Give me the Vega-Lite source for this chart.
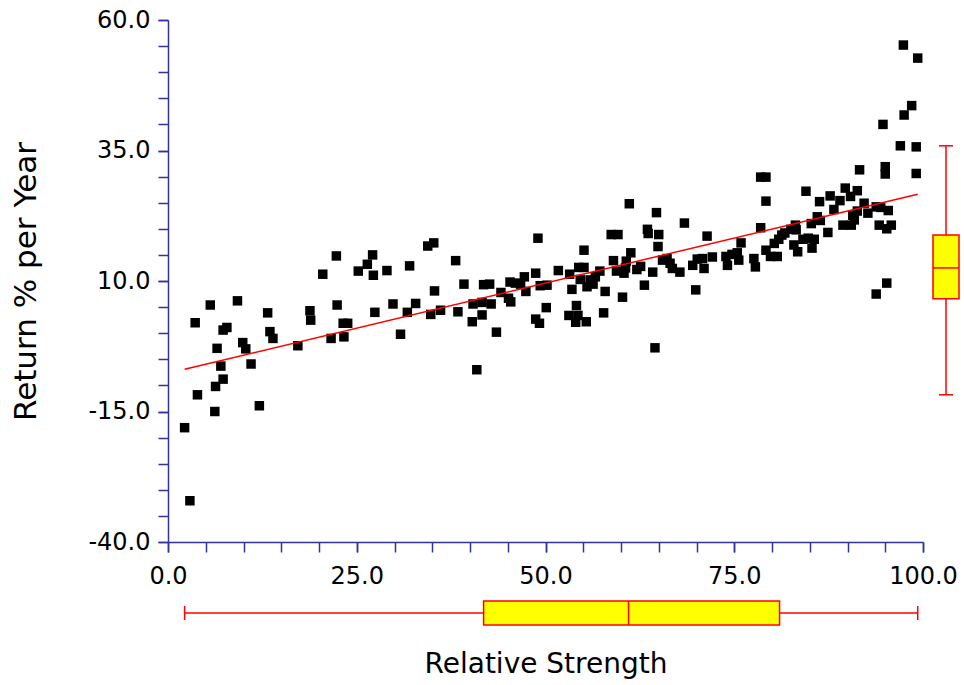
{
  "$schema": "https://vega.github.io/schema/vega-lite/v6.json",
  "background": "white",
  "padding": {"left": 10, "top": 8, "right": 0, "bottom": 4},
  "config": {
    "view": {"stroke": null},
    "font": "DejaVu Sans",
    "axis": {
      "domainColor": "#333399",
      "tickColor": "#333399",
      "domainWidth": 1.5,
      "tickWidth": 1.5,
      "tickSize": 10,
      "grid": false,
      "labelColor": "black",
      "titleColor": "black",
      "labelFont": "DejaVu Sans",
      "titleFont": "DejaVu Sans",
      "titleFontWeight": "normal",
      "labelFontSize": 24,
      "labelFlush": false
    }
  },
  "datasets": {
    "points": [
      {"strength": 2.2, "ret": -18.1}, {"strength": 2.9, "ret": -32.1}, {"strength": 3.6, "ret": 2.0}, {"strength": 3.9, "ret": -11.8},
      {"strength": 5.6, "ret": 5.4}, {"strength": 6.2, "ret": -15.0}, {"strength": 6.3, "ret": -10.2}, {"strength": 6.5, "ret": -2.9},
      {"strength": 7.0, "ret": -6.3}, {"strength": 7.3, "ret": 0.6}, {"strength": 7.8, "ret": 1.1}, {"strength": 7.3, "ret": -8.8},
      {"strength": 9.2, "ret": 6.2}, {"strength": 9.9, "ret": -1.8}, {"strength": 10.3, "ret": -3.0}, {"strength": 11.0, "ret": -5.9},
      {"strength": 12.1, "ret": -13.9}, {"strength": 13.2, "ret": 3.9}, {"strength": 13.5, "ret": 0.3}, {"strength": 13.9, "ret": -1.0},
      {"strength": 17.2, "ret": -2.4}, {"strength": 18.8, "ret": 4.3}, {"strength": 18.9, "ret": 2.5}, {"strength": 20.5, "ret": 11.3},
      {"strength": 21.6, "ret": -1.0}, {"strength": 22.3, "ret": 14.8}, {"strength": 22.4, "ret": 5.4}, {"strength": 23.2, "ret": 1.9},
      {"strength": 23.8, "ret": 1.9}, {"strength": 23.3, "ret": -0.7}, {"strength": 25.2, "ret": 11.9}, {"strength": 26.4, "ret": 13.2},
      {"strength": 27.1, "ret": 15.0}, {"strength": 27.2, "ret": 11.1}, {"strength": 27.4, "ret": 4.0}, {"strength": 29.0, "ret": 12.0},
      {"strength": 29.8, "ret": 5.6}, {"strength": 30.8, "ret": -0.2}, {"strength": 31.7, "ret": 4.0}, {"strength": 32.0, "ret": 12.9},
      {"strength": 32.8, "ret": 5.7}, {"strength": 34.4, "ret": 16.7}, {"strength": 35.2, "ret": 17.3}, {"strength": 34.8, "ret": 3.6},
      {"strength": 35.3, "ret": 8.1}, {"strength": 36.1, "ret": 4.4}, {"strength": 38.1, "ret": 13.9}, {"strength": 38.4, "ret": 4.1},
      {"strength": 39.2, "ret": 9.4}, {"strength": 40.4, "ret": 5.6}, {"strength": 40.3, "ret": 2.2}, {"strength": 40.9, "ret": -7.0},
      {"strength": 41.6, "ret": 3.5}, {"strength": 41.6, "ret": 5.9}, {"strength": 41.8, "ret": 9.3}, {"strength": 42.6, "ret": 9.4},
      {"strength": 42.8, "ret": 5.6}, {"strength": 43.5, "ret": 0.2}, {"strength": 44.1, "ret": 7.8}, {"strength": 45.1, "ret": 6.7},
      {"strength": 45.4, "ret": 6.0}, {"strength": 45.3, "ret": 9.8}, {"strength": 46.0, "ret": 9.6}, {"strength": 46.7, "ret": 9.4},
      {"strength": 47.2, "ret": 10.8}, {"strength": 47.4, "ret": 8.0}, {"strength": 48.7, "ret": 11.5}, {"strength": 49.0, "ret": 18.2},
      {"strength": 48.7, "ret": 2.7}, {"strength": 49.2, "ret": 1.9}, {"strength": 49.3, "ret": 9.1}, {"strength": 50.2, "ret": 9.2},
      {"strength": 50.1, "ret": 4.9}, {"strength": 51.7, "ret": 12.0}, {"strength": 53.2, "ret": 11.3}, {"strength": 54.4, "ret": 12.6},
      {"strength": 55.1, "ret": 12.6}, {"strength": 55.1, "ret": 15.9}, {"strength": 54.6, "ret": 10.3}, {"strength": 55.9, "ret": 10.2},
      {"strength": 56.6, "ret": 10.8}, {"strength": 57.2, "ret": 11.9}, {"strength": 55.5, "ret": 8.9}, {"strength": 56.3, "ret": 9.4},
      {"strength": 53.5, "ret": 8.4}, {"strength": 57.9, "ret": 8.0}, {"strength": 59.0, "ret": 13.9}, {"strength": 59.4, "ret": 11.9},
      {"strength": 60.4, "ret": 11.5}, {"strength": 61.3, "ret": 15.4}, {"strength": 60.7, "ret": 13.8}, {"strength": 60.6, "ret": 12.5},
      {"strength": 62.1, "ret": 12.2}, {"strength": 60.2, "ret": 6.9}, {"strength": 54.1, "ret": 5.3}, {"strength": 53.1, "ret": 3.4},
      {"strength": 54.3, "ret": 3.4}, {"strength": 54.0, "ret": 2.1}, {"strength": 55.4, "ret": 2.2}, {"strength": 57.7, "ret": 3.9},
      {"strength": 58.7, "ret": 18.9}, {"strength": 59.6, "ret": 18.9}, {"strength": 61.1, "ret": 24.8}, {"strength": 64.5, "ret": -2.8},
      {"strength": 62.6, "ret": 12.8}, {"strength": 63.1, "ret": 9.2}, {"strength": 63.5, "ret": 19.9}, {"strength": 63.6, "ret": 19.1},
      {"strength": 65.0, "ret": 18.9}, {"strength": 64.7, "ret": 23.1}, {"strength": 64.9, "ret": 16.6}, {"strength": 64.2, "ret": 11.7},
      {"strength": 65.5, "ret": 14.0}, {"strength": 66.1, "ret": 14.3}, {"strength": 66.5, "ret": 13.4}, {"strength": 66.8, "ret": 12.4},
      {"strength": 67.8, "ret": 11.7}, {"strength": 68.4, "ret": 21.1}, {"strength": 69.5, "ret": 13.0}, {"strength": 70.1, "ret": 14.2},
      {"strength": 70.8, "ret": 14.3}, {"strength": 71.0, "ret": 12.4}, {"strength": 71.4, "ret": 18.6}, {"strength": 72.1, "ret": 14.6},
      {"strength": 69.9, "ret": 8.3}, {"strength": 73.9, "ret": 14.7}, {"strength": 74.1, "ret": 13.0}, {"strength": 74.7, "ret": 15.1},
      {"strength": 75.4, "ret": 15.4}, {"strength": 75.6, "ret": 14.0}, {"strength": 75.9, "ret": 17.3}, {"strength": 77.6, "ret": 14.3},
      {"strength": 77.8, "ret": 12.7}, {"strength": 78.5, "ret": 20.2}, {"strength": 78.5, "ret": 29.9}, {"strength": 79.2, "ret": 29.9},
      {"strength": 79.2, "ret": 25.3}, {"strength": 79.2, "ret": 15.9}, {"strength": 79.8, "ret": 14.7}, {"strength": 80.7, "ret": 14.7},
      {"strength": 80.3, "ret": 17.2}, {"strength": 80.9, "ret": 18.0}, {"strength": 81.3, "ret": 18.8}, {"strength": 81.7, "ret": 19.2},
      {"strength": 82.5, "ret": 19.9}, {"strength": 83.1, "ret": 20.7}, {"strength": 83.2, "ret": 19.8}, {"strength": 82.9, "ret": 16.9},
      {"strength": 83.4, "ret": 15.6}, {"strength": 84.1, "ret": 18.0}, {"strength": 84.8, "ret": 18.2}, {"strength": 85.6, "ret": 18.0},
      {"strength": 85.3, "ret": 16.3}, {"strength": 84.5, "ret": 27.2}, {"strength": 86.3, "ret": 25.2}, {"strength": 85.2, "ret": 21.0},
      {"strength": 86.0, "ret": 22.3}, {"strength": 86.4, "ret": 21.6}, {"strength": 87.4, "ret": 19.3}, {"strength": 87.7, "ret": 26.3},
      {"strength": 88.2, "ret": 23.7}, {"strength": 89.0, "ret": 25.4}, {"strength": 89.7, "ret": 27.8}, {"strength": 90.4, "ret": 26.2},
      {"strength": 91.3, "ret": 27.3}, {"strength": 91.6, "ret": 31.3}, {"strength": 90.7, "ret": 22.6}, {"strength": 90.9, "ret": 21.7},
      {"strength": 89.4, "ret": 20.7}, {"strength": 90.5, "ret": 20.7}, {"strength": 91.3, "ret": 23.4}, {"strength": 92.2, "ret": 24.9},
      {"strength": 92.7, "ret": 23.0}, {"strength": 93.8, "ret": 24.2}, {"strength": 94.4, "ret": 24.1}, {"strength": 95.4, "ret": 23.5},
      {"strength": 94.2, "ret": 20.7}, {"strength": 95.2, "ret": 20.0}, {"strength": 95.8, "ret": 20.7}, {"strength": 95.2, "ret": 9.6},
      {"strength": 93.8, "ret": 7.5}, {"strength": 95.0, "ret": 31.9}, {"strength": 95.0, "ret": 30.5}, {"strength": 99.1, "ret": 30.6},
      {"strength": 97.4, "ret": 55.2}, {"strength": 99.3, "ret": 52.7}, {"strength": 98.5, "ret": 43.6}, {"strength": 97.5, "ret": 41.8},
      {"strength": 94.7, "ret": 40.0}, {"strength": 97.0, "ret": 35.9}, {"strength": 99.1, "ret": 35.7}
    ],
    "fit": [
      {"strength": 2.2, "ret": -6.9},
      {"strength": 99.3, "ret": 26.6}
    ],
    "xbox": [
      {"lower": 2.2, "q1": 41.8, "median": 61.0, "q3": 81.0, "upper": 99.3}
    ],
    "ybox": [
      {"lower": -11.8, "q1": 6.6, "median": 12.5, "q3": 18.8, "upper": 35.9}
    ]
  },
  "spacing": 10,
  "vconcat": [
    {
      "bounds": "flush",
      "spacing": 8,
      "hconcat": [
        {
          "width": 755,
          "height": 522,
          "resolve": {"axis": {"x": "independent", "y": "independent"}},
          "layer": [
            {
              "data": {"name": "points"},
              "mark": {"type": "point", "shape": "square", "filled": true, "size": 90, "color": "black", "opacity": 1},
              "encoding": {
                "x": {
                  "field": "strength", "type": "quantitative",
                  "scale": {"domain": [0, 100], "nice": false, "zero": false},
                  "axis": {
                    "orient": "bottom",
                    "title": null,
                    "values": [0, 25, 50, 75, 100],
                    "labelExpr": "format(datum.value, '.1f')",
                    "labelFlush": false,
                    "labelPadding": 12
                  }
                },
                "y": {
                  "field": "ret", "type": "quantitative",
                  "scale": {"domain": [-40, 60], "nice": false, "zero": false},
                  "axis": {
                    "orient": "left",
                    "title": "Return % per Year",
                    "titleFontSize": 31,
                    "titlePadding": 45,
                    "values": [-40, -15, 10, 35, 60],
                    "labelExpr": "(datum.value < 0 ? '-' : '') + format(abs(datum.value), '.1f')",
                    "labelFlush": false,
                    "labelPadding": 8
                  }
                }
              }
            },
            {
              "data": {"name": "fit"},
              "mark": {"type": "line", "color": "#ff0000", "strokeWidth": 1.5},
              "encoding": {
                "x": {
                  "field": "strength", "type": "quantitative",
                  "axis": {"orient": "bottom", "title": null, "labels": false, "domain": false,
                           "values": [0,5,10,15,20,25,30,35,40,45,50,55,60,65,70,75,80,85,90,95,100]}
                },
                "y": {
                  "field": "ret", "type": "quantitative",
                  "axis": {"orient": "left", "title": null, "labels": false, "domain": false,
                           "values": [-40,-35,-30,-25,-20,-15,-10,-5,0,5,10,15,20,25,30,35,40,45,50,55,60]}
                }
              }
            }
          ]
        },
        {
          "width": 30,
          "height": 522,
          "data": {"name": "ybox"},
          "layer": [
            {
              "mark": {"type": "rule", "color": "#ff0000", "strokeWidth": 1.5},
              "encoding": {
                "x": {"datum": 0, "type": "quantitative", "scale": {"domain": [-1, 1]}, "axis": null},
                "y": {"field": "lower", "type": "quantitative", "scale": {"domain": [-40, 60], "nice": false, "zero": false}, "axis": null},
                "y2": {"field": "upper"}
              }
            },
            {
              "mark": {"type": "bar", "size": 26, "fill": "#ffff00", "stroke": "#ff0000", "strokeWidth": 1.5},
              "encoding": {
                "x": {"datum": 0, "type": "quantitative"},
                "y": {"field": "q1", "type": "quantitative"},
                "y2": {"field": "q3"}
              }
            },
            {
              "mark": {"type": "tick", "orient": "horizontal", "size": 26, "thickness": 1.5, "color": "#ff0000", "opacity": 1},
              "encoding": {
                "x": {"datum": 0, "type": "quantitative"},
                "y": {"field": "median", "type": "quantitative"}
              }
            },
            {
              "mark": {"type": "tick", "orient": "horizontal", "size": 14, "thickness": 1.5, "color": "#ff0000", "opacity": 1},
              "encoding": {
                "x": {"datum": 0, "type": "quantitative"},
                "y": {"field": "lower", "type": "quantitative"}
              }
            },
            {
              "mark": {"type": "tick", "orient": "horizontal", "size": 14, "thickness": 1.5, "color": "#ff0000", "opacity": 1},
              "encoding": {
                "x": {"datum": 0, "type": "quantitative"},
                "y": {"field": "upper", "type": "quantitative"}
              }
            }
          ]
        }
      ]
    },
    {
      "width": 755,
      "height": 30,
      "data": {"name": "xbox"},
      "layer": [
        {
          "mark": {"type": "rule", "color": "#ff0000", "strokeWidth": 1.5},
          "encoding": {
            "x": {
              "field": "lower", "type": "quantitative",
              "scale": {"domain": [0, 100], "nice": false, "zero": false},
              "title": "Relative Strength",
              "axis": {"title": "Relative Strength", "labels": false, "ticks": false, "domain": false, "titleFontSize": 28, "titlePadding": 22}
            },
            "x2": {"field": "upper"},
            "y": {"datum": 0, "type": "quantitative", "scale": {"domain": [-1, 1]}, "axis": null}
          }
        },
        {
          "mark": {"type": "bar", "size": 24, "fill": "#ffff00", "stroke": "#ff0000", "strokeWidth": 1.5},
          "encoding": {
            "x": {"field": "q1", "type": "quantitative", "title": "Relative Strength"},
            "x2": {"field": "q3"},
            "y": {"datum": 0, "type": "quantitative"}
          }
        },
        {
          "mark": {"type": "tick", "orient": "vertical", "size": 24, "thickness": 1.5, "color": "#ff0000", "opacity": 1},
          "encoding": {
            "x": {"field": "median", "type": "quantitative", "title": "Relative Strength"},
            "y": {"datum": 0, "type": "quantitative"}
          }
        },
        {
          "mark": {"type": "tick", "orient": "vertical", "size": 14, "thickness": 1.5, "color": "#ff0000", "opacity": 1},
          "encoding": {
            "x": {"field": "lower", "type": "quantitative", "title": "Relative Strength"},
            "y": {"datum": 0, "type": "quantitative"}
          }
        },
        {
          "mark": {"type": "tick", "orient": "vertical", "size": 14, "thickness": 1.5, "color": "#ff0000", "opacity": 1},
          "encoding": {
            "x": {"field": "upper", "type": "quantitative", "title": "Relative Strength"},
            "y": {"datum": 0, "type": "quantitative"}
          }
        }
      ]
    }
  ]
}
